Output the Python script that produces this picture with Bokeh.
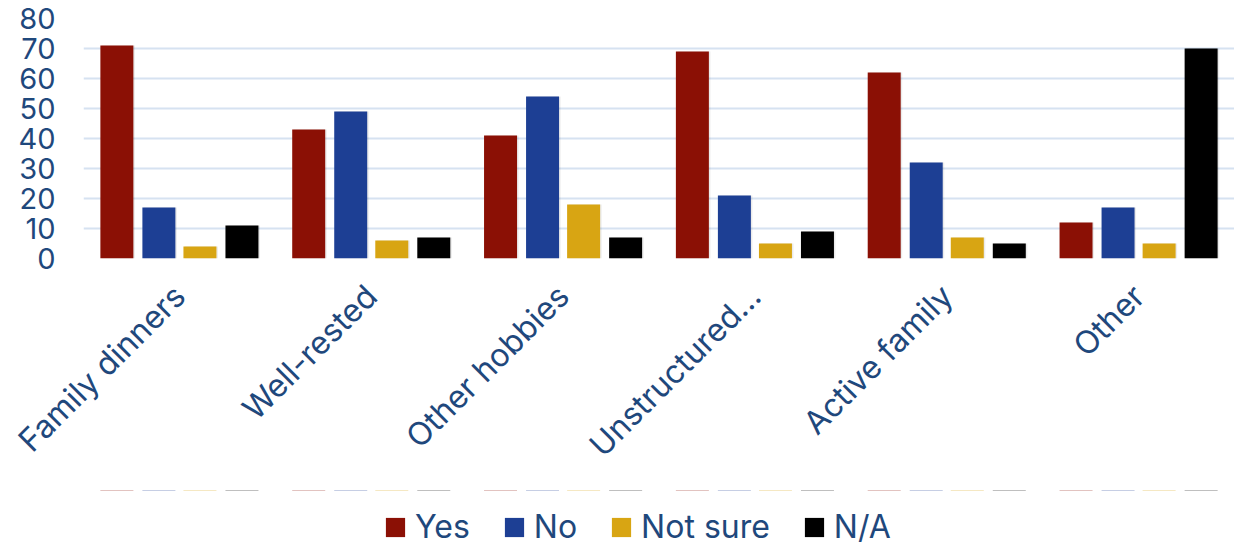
import math
from bokeh.plotting import figure
from bokeh.layouts import column
from bokeh.models import ColumnDataSource, FixedTicker, Legend, LegendItem, FactorRange
from bokeh.transform import dodge
from bokeh.embed import file_html
from bokeh.resources import INLINE

categories = ["Family dinners", "Well-rested", "Other hobbies", "Unstructured...", "Active family", "Other"]
yes = [71, 43, 41, 69, 62, 12]
no = [17, 49, 54, 21, 32, 17]
not_sure = [4, 6, 18, 5, 7, 5]
na = [11, 7, 7, 9, 5, 70]

series = [("Yes", "yes", "#8B1005"), ("No", "no", "#1D3F94"),
          ("Not sure", "not_sure", "#D8A513"), ("N/A", "na", "#000000")]
offsets = [-0.326, -0.107, 0.107, 0.326]

TEXT = "#1F487C"
FONT = "Inter"

source = ColumnDataSource(dict(cat=categories, yes=yes, no=no, not_sure=not_sure, na=na))

p = figure(x_range=FactorRange(*categories), y_range=(0, 80),
           frame_width=1151, frame_height=240,
           output_backend="svg", toolbar_location=None,
           min_border_left=83, min_border_right=0, min_border_top=18, min_border_bottom=232)
p.outline_line_color = None

for (label, col, color), off in zip(series, offsets):
    # faint drop shadow behind each bar
    p.vbar(x=dodge("cat", off + 0.008, range=p.x_range), top=col, width=0.172, bottom=0,
           source=source, fill_color="#000000", fill_alpha=0.08, line_color=None)
    p.vbar(x=dodge("cat", off, range=p.x_range), top=col, width=0.172, bottom=0,
           source=source, fill_color=color, line_color=None)

p.yaxis.ticker = FixedTicker(ticks=list(range(0, 81, 10)))
p.ygrid.ticker = FixedTicker(ticks=list(range(0, 81, 10)))
p.ygrid.grid_line_color = "#D6E2F1"
p.ygrid.grid_line_width = 2
p.xgrid.grid_line_color = None

for ax in (p.xaxis, p.yaxis):
    ax.axis_line_color = None
    ax.major_tick_line_color = None
    ax.minor_tick_line_color = None
    ax.major_label_text_color = TEXT
    ax.major_label_text_font = FONT

p.yaxis.major_label_text_font_size = "29px"
p.yaxis.major_label_standoff = 22
p.xaxis.major_label_text_font_size = "32px"
p.xaxis.major_label_orientation = math.pi / 4
p.xaxis.major_label_standoff = 26

# strip beneath the chart that carries the series key; its bars are flat and
# sit far outside the visible range so only the legend swatches show
key = figure(width=1234, height=56, output_backend="svg", toolbar_location=None,
             x_range=FactorRange(*categories), y_range=(-200, -100),
             min_border_left=83, min_border_right=0, min_border_top=0, min_border_bottom=0)
key.axis.visible = False
key.grid.visible = False
key.outline_line_color = None
items = []
for (label, col, color), off in zip(series, offsets):
    r = key.vbar(x=dodge("cat", off, range=key.x_range), top=col, bottom=col, width=0.172,
                 source=source, fill_color=color, line_color=None)
    items.append(LegendItem(label=label, renderers=[r]))
legend = Legend(items=items, orientation="horizontal", location=(300, 0),
                glyph_width=24, glyph_height=24, label_standoff=8, spacing=32,
                label_text_font=FONT, label_text_font_size="32px", label_text_color=TEXT,
                border_line_color=None, background_fill_alpha=0, padding=0, margin=0)
key.add_layout(legend, "center")

open("out.html", "w").write(file_html(column(p, key, spacing=0), INLINE))
